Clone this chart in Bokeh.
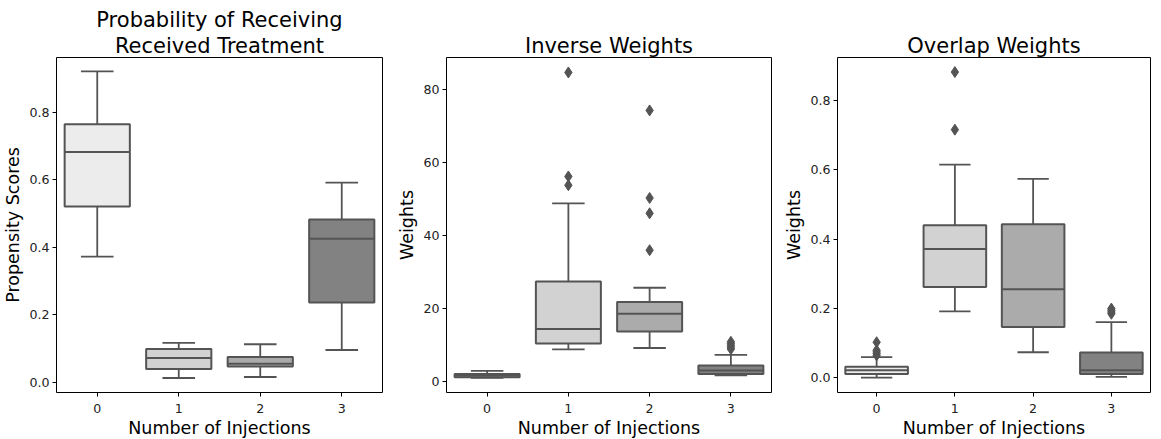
from bokeh.plotting import figure
from bokeh.layouts import row
from bokeh.models import FixedTicker, Range1d, Title
from bokeh.embed import file_html
from bokeh.resources import INLINE

# ---------------- data ----------------
categories = ["0", "1", "2", "3"]
box_colors = ["#ececec", "#d2d2d2", "#ababab", "#828282"]

# Panel 1: propensity scores
ps_low = [0.372, 0.012, 0.015, 0.095]
ps_q1 = [0.520, 0.039, 0.046, 0.236]
ps_med = [0.682, 0.071, 0.054, 0.425]
ps_q3 = [0.764, 0.098, 0.074, 0.482]
ps_high = [0.921, 0.116, 0.112, 0.591]
ps_out = [[], [], [], []]
ps_ticks = [0.0, 0.2, 0.4, 0.6, 0.8]

# Panel 2: inverse weights
iw_low = [1.0, 8.8, 9.2, 1.7]
iw_q1 = [1.2, 10.4, 13.7, 2.1]
iw_med = [1.6, 14.4, 18.6, 3.0]
iw_q3 = [2.1, 27.4, 21.8, 4.4]
iw_high = [2.9, 48.8, 25.7, 7.3]
iw_out = [[], [84.7, 56.2, 53.8], [74.3, 50.3, 46.1, 36.0], [8.9, 9.4, 9.9, 10.4, 10.9]]
iw_ticks = [0, 20, 40, 60, 80]

# Panel 3: overlap weights
ow_low = [0.001, 0.192, 0.074, 0.003]
ow_q1 = [0.0115, 0.262, 0.147, 0.0115]
ow_med = [0.022, 0.372, 0.256, 0.022]
ow_q3 = [0.032, 0.440, 0.443, 0.073]
ow_high = [0.060, 0.615, 0.574, 0.161]
ow_out = [[0.065, 0.070, 0.075, 0.080, 0.103], [0.882, 0.716], [], [0.185, 0.190, 0.195, 0.200]]
ow_ticks = [0.0, 0.2, 0.4, 0.6, 0.8]

FONT = "DejaVu Sans"
GRAY = "#545454"


def make_panel(titles, ylabel, low, q1, med, q3, high, outs, yr, ticks, fmt,
               frame_w, left_b, right_b):
    p = figure(frame_width=frame_w, frame_height=335,
               min_border_left=left_b, min_border_right=right_b,
               min_border_top=57, min_border_bottom=44,
               x_range=Range1d(-0.5, 3.5), y_range=Range1d(*yr),
               output_backend="svg", toolbar_location=None,
               title=titles[0])
    p.title.text_font = FONT
    p.title.text_font_size = "21px"
    p.title.text_font_style = "normal"
    p.title.text_color = "black"
    p.title.align = "center"
    p.title.standoff = 0
    for t in titles[1:]:
        p.add_layout(Title(text=t, text_font=FONT, text_font_size="21px",
                           text_color="black", text_font_style="normal",
                           align="center", standoff=0), "above")

    xs = list(range(len(categories)))
    # whiskers
    p.segment(x0=xs, y0=q3, x1=xs, y1=high, line_color=GRAY, line_width=1.8)
    p.segment(x0=xs, y0=low, x1=xs, y1=q1, line_color=GRAY, line_width=1.8)
    p.segment(x0=[x - 0.2 for x in xs], y0=high, x1=[x + 0.2 for x in xs], y1=high,
              line_color=GRAY, line_width=1.8)
    p.segment(x0=[x - 0.2 for x in xs], y0=low, x1=[x + 0.2 for x in xs], y1=low,
              line_color=GRAY, line_width=1.8)
    # boxes
    p.quad(left=[x - 0.4 for x in xs], right=[x + 0.4 for x in xs], bottom=q1, top=q3,
           fill_color=box_colors, line_color=GRAY, line_width=2)
    # medians
    p.segment(x0=[x - 0.4 for x in xs], y0=med, x1=[x + 0.4 for x in xs], y1=med,
              line_color=GRAY, line_width=2)
    # outliers
    ox, oy = [], []
    for x, vals in zip(xs, outs):
        ox += [x] * len(vals)
        oy += vals
    if ox:
        p.scatter(ox, oy, marker="diamond", size=11, fill_color=GRAY, line_color=GRAY)

    p.xgrid.visible = False
    p.ygrid.visible = False
    p.outline_line_color = "black"
    p.outline_line_width = 1
    p.outline_line_alpha = 1

    p.xaxis.ticker = FixedTicker(ticks=xs)
    p.xaxis.major_label_overrides = {x: c for x, c in zip(xs, categories)}
    p.yaxis.ticker = FixedTicker(ticks=ticks)
    p.yaxis.major_label_overrides = {t: fmt(t) for t in ticks}
    p.xaxis.axis_label = "Number of Injections"
    p.yaxis.axis_label = ylabel
    for ax in (p.xaxis[0], p.yaxis[0]):
        ax.axis_line_color = None
        ax.major_tick_line_color = "black"
        ax.major_tick_out = 4
        ax.major_tick_in = 0
        ax.minor_tick_line_color = None
        ax.major_label_text_font = FONT
        ax.major_label_text_font_size = "12.6px"
        ax.major_label_text_color = "#222222"
        ax.major_label_standoff = 3
        ax.axis_label_text_font = FONT
        ax.axis_label_text_font_size = "17.5px"
        ax.axis_label_text_font_style = "normal"
        ax.axis_label_text_color = "black"
        ax.axis_label_standoff = 3
    p.xaxis.major_label_standoff = 7
    p.xaxis.axis_label_standoff = 2
    return p


p1 = make_panel(["Probability of Receiving", "Received Treatment"], "Propensity Scores",
                ps_low, ps_q1, ps_med, ps_q3, ps_high, ps_out, (-0.031, 0.962), ps_ticks,
                lambda t: f"{t:.1f}", 326, 53, 11)
p2 = make_panel(["Inverse Weights"], "Weights",
                iw_low, iw_q1, iw_med, iw_q3, iw_high, iw_out, (-3.0, 88.8), iw_ticks,
                lambda t: f"{t:d}", 325, 53, 10)
p3 = make_panel(["Overlap Weights"], "Weights",
                ow_low, ow_q1, ow_med, ow_q3, ow_high, ow_out, (-0.042, 0.924), ow_ticks,
                lambda t: f"{t:.1f}", 313, 53, 1)

layout = row(p1, p2, p3)
open("out.html", "w").write(file_html(layout, INLINE))
